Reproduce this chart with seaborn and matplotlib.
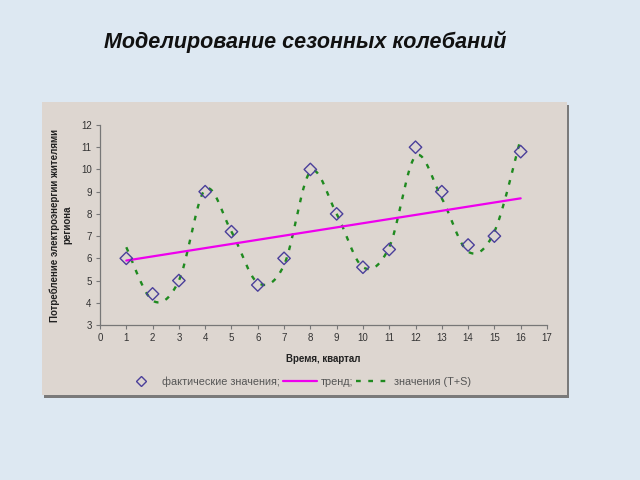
import numpy as np
import pandas as pd
import matplotlib
matplotlib.use("Agg")
import matplotlib.pyplot as plt
from matplotlib.patches import Rectangle
from matplotlib.lines import Line2D
import seaborn as sns

# ---- data ----
quarters = [1, 2, 3, 4, 5, 6, 7, 8, 9, 10, 11, 12, 13, 14, 15, 16]
actual = [6.0, 4.4, 5.0, 9.0, 7.2, 4.8, 6.0, 10.0, 8.0, 5.6, 6.4, 11.0, 9.0, 6.6, 7.0, 10.8]
model_ts = [6.5, 4.1, 5.0, 9.1, 7.2, 4.9, 5.7, 9.9, 8.0, 5.6, 6.5, 10.6, 8.7, 6.3, 7.2, 11.4]
trend_x = [1, 16]
trend_y = [5.9, 8.7]
x_ticks = list(range(0, 18))
y_ticks = list(range(3, 13))

title = "Моделирование сезонных колебаний"
xlabel = "Время, квартал"
ylabel = "Потребление электроэнергии жителями\nрегиона"
leg_labels = ["фактические значения;", "тренд;", "значения (T+S)"]


def smooth(xs, ys, n=30):
    """Excel-style smoothed line (Bezier with Catmull-Rom control points)."""
    xs = np.asarray(xs, float)
    ys = np.asarray(ys, float)
    P = np.column_stack([xs, ys])
    Pe = np.vstack([P[0], P, P[-1]])
    out = []
    for i in range(len(P) - 1):
        p0, p1, p2, p3 = Pe[i], Pe[i + 1], Pe[i + 2], Pe[i + 3]
        c1 = p1 + (p2 - p0) / 6.0
        c2 = p2 - (p3 - p1) / 6.0
        t = np.linspace(0, 1, n, endpoint=(i == len(P) - 2))[:, None]
        seg = ((1 - t) ** 3) * p1 + 3 * ((1 - t) ** 2) * t * c1 + 3 * (1 - t) * t ** 2 * c2 + t ** 3 * p2
        out.append(seg)
    out = np.vstack(out)
    return out[:, 0], out[:, 1]


sns.set_theme(style="white")
plt.rcParams["font.family"] = ["Liberation Sans", "DejaVu Sans"]

fig = plt.figure(figsize=(6.4, 4.8), dpi=100)
fig.patch.set_facecolor("#dde8f2")

# chart panel with shadow
fig.patches.append(Rectangle((0.0695, 0.171), 0.8203, 0.6104, transform=fig.transFigure,
                             facecolor="#7a7a7a", edgecolor="none", zorder=-3))
fig.patches.append(Rectangle((0.0656, 0.1771), 0.8203, 0.6104, transform=fig.transFigure,
                             facecolor="#ddd6d0", edgecolor="none", zorder=-2))

fig.text(0.477, 0.912, title, ha="center", va="center", fontsize=15.5,
         fontweight="bold", fontstyle="italic", color="#111111")

ax = fig.add_axes([0.15625, 0.3229, 0.6984, 0.4167])
ax.set_facecolor("none")
ax.set_zorder(1)

sx, sy = smooth(quarters, model_ts)
df_s = pd.DataFrame({"x": sx, "y": sy})
df_a = pd.DataFrame({"x": quarters, "y": actual})
df_t = pd.DataFrame({"x": trend_x, "y": trend_y})

sns.lineplot(data=df_s, x="x", y="y", ax=ax, color="#1f8a1f", lw=1.7,
             linestyle=(0, (2.0, 3.2)), sort=False, estimator=None, zorder=2)
sns.lineplot(data=df_t, x="x", y="y", ax=ax, color="#ee00ee", lw=1.6, zorder=3)
sns.scatterplot(data=df_a, x="x", y="y", ax=ax, marker="D", s=40,
                facecolor="none", edgecolor="#4a3f9a", linewidth=1.0, zorder=4)

ax.set_xlim(0, 17)
ax.set_ylim(3, 12)
ax.set_xticks(x_ticks)
ax.set_yticks(y_ticks)
ax.tick_params(axis="both", labelsize=7, colors="#777777", labelcolor="#333333",
               length=3, width=0.8, direction="out", pad=3)
ax.tick_params(axis="both", which="both", bottom=True, left=True)
for s in ["top", "right"]:
    ax.spines[s].set_visible(False)
for s in ["left", "bottom"]:
    ax.spines[s].set_color("#777777")
    ax.spines[s].set_linewidth(0.9)

ax.set_xlabel(xlabel, fontsize=7, fontweight="bold", color="#222222", labelpad=8)
ax.set_ylabel(ylabel, fontsize=7, fontweight="bold", color="#222222", labelpad=6,
              linespacing=1.3)

handles = [
    Line2D([], [], marker="D", ls="none", markerfacecolor="none",
           markeredgecolor="#4a3f9a", markersize=5),
    Line2D([], [], color="#ee00ee", lw=1.6),
    Line2D([], [], color="#1f8a1f", lw=1.7, linestyle=(0, (2.0, 3.2))),
]
fig.legend(handles, leg_labels, loc="center", bbox_to_anchor=(0.465, 0.205), ncol=3,
           frameon=False, fontsize=7.8, labelcolor="#555555", handlelength=3.2,
           handletextpad=0.3, columnspacing=0.3)

fig.savefig("out.png", dpi=100, facecolor=fig.get_facecolor())
